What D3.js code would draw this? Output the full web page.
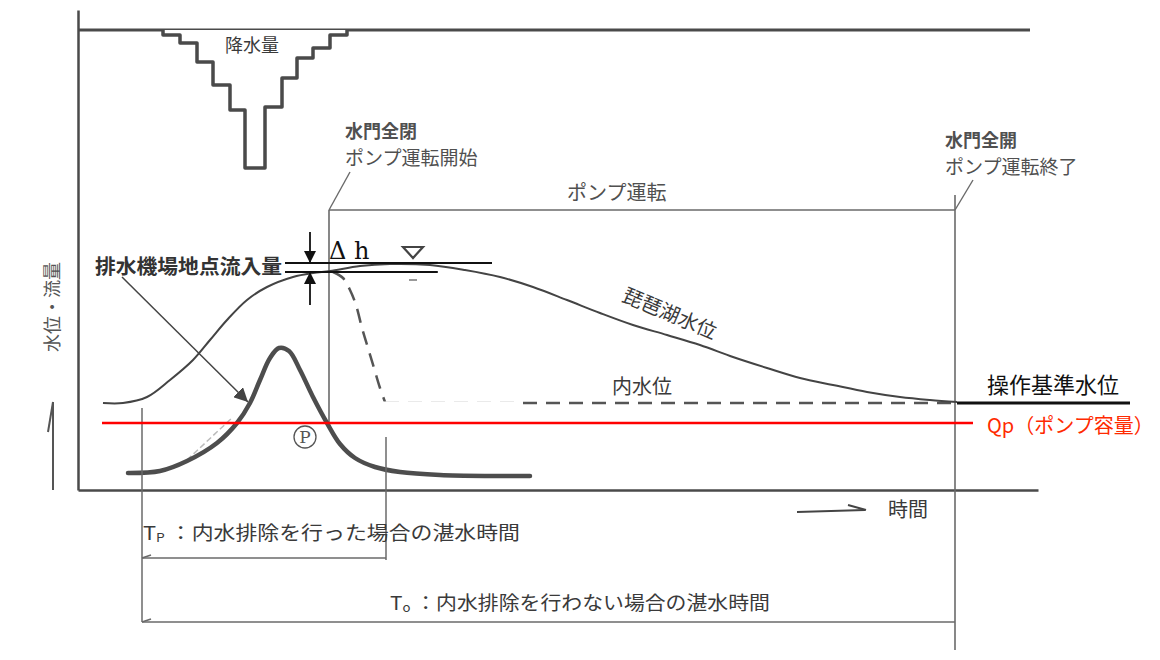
<!DOCTYPE html>
<html>
<head>
<meta charset="utf-8">
<script src="https://cdn.jsdelivr.net/npm/d3@7"></script>
<style>
  body { margin: 0; background: #fff; }
  svg text { font-family: "Noto Sans CJK JP", "Noto Sans", sans-serif; }
</style>
</head>
<body>
<svg id="chart" width="1160" height="660"></svg>
<script>
// time in hours, level in arbitrary units, rain in mm
var rainEdges = [4.25, 5.1, 5.95, 6.75, 7.6, 8.35, 9.35, 10.2, 10.95, 11.75, 12.6, 13.45];
var rainDepth = [0.5, 1.3, 3.2, 5.5, 8.0, 13.8, 7.7, 4.8, 2.8, 1.8, 0.5];

var lakeT = [1.25, 2.25, 3.45, 4.6, 5.75, 6.6, 7.45, 8.45, 9.45, 10.75, 11.75, 12.6, 14.1, 15.6, 17.6, 19.35, 21.1, 22.75, 24.45, 26.1, 27.75, 29.45, 31.1, 32.75, 34.45, 36.1, 37.75, 39.45, 41.1, 42.6, 43.95];
var lakeV = [8.7, 8.7, 9.3, 11.0, 13.0, 15.0, 17.0, 19.0, 20.3, 21.3, 21.7, 21.9, 22.4, 22.6, 22.5, 22.0, 21.3, 20.3, 19.0, 17.7, 16.5, 15.5, 14.5, 13.3, 12.2, 11.2, 10.5, 9.8, 9.3, 9.0, 8.8];

var innerT = [12.75, 13.25, 13.6, 13.9, 14.2, 14.5, 14.8, 15.1, 15.35];
var innerV = [21.8, 21.2, 20.0, 18.5, 16.2, 14.2, 12.2, 10.2, 8.8];
var innerFlatT = [15.35, 43.95];
var innerFlatV = 8.7;

var inflowT = [2.5, 4.1, 5.45, 6.95, 7.95, 8.6, 9.1, 9.6, 10.05, 10.55, 11.1, 11.75, 12.45, 13.1, 13.85, 14.85, 16.1, 18.1, 20.6, 22.6];
var inflowV = [1.7, 1.9, 2.9, 4.7, 6.7, 8.7, 11.0, 13.2, 14.2, 13.9, 12.0, 9.3, 6.7, 4.6, 3.2, 2.3, 1.8, 1.5, 1.4, 1.4];

var qp = 6.7;            // pump capacity level
var baseLevel = 8.7;     // operating reference level
var pumpStart = 12.55, pumpEnd = 43.85, pumpBox = 28;
var floodStart = 3.2, tpEnd = 15.4;
var dhTop = 22.7, dhBottom = 21.8;

var svg = d3.select("#chart");
var x = d3.scaleLinear().domain([0, 48]).range([78, 1038]);
var y = d3.scaleLinear().domain([0, 48]).range([490, 10]);
var r = d3.scaleLinear().domain([0, 14]).range([y(46), y(46) + 140]);

var ink = "#4a4a4a", thin = "#6a6a6a", txt = "#3a3a3a";

var defs = svg.append("defs");
defs.append("marker").attr("id", "head").attr("viewBox", "0 0 10 10")
    .attr("refX", 10).attr("refY", 5).attr("markerWidth", 12).attr("markerHeight", 12)
    .attr("markerUnits", "userSpaceOnUse").attr("orient", "auto")
  .append("path").attr("d", "M0,0L10,5L0,10z").attr("fill", "#111");
defs.append("marker").attr("id", "head2").attr("viewBox", "0 0 10 10")
    .attr("refX", 10).attr("refY", 5).attr("markerWidth", 14).attr("markerHeight", 14)
    .attr("markerUnits", "userSpaceOnUse").attr("orient", "auto")
  .append("path").attr("d", "M0,0L10,5L0,10z").attr("fill", "#444");

var smooth = d3.line().curve(d3.curveCatmullRom)
    .x(function(d) { return x(d[0]); }).y(function(d) { return y(d[1]); });

function seg(t1, v1, t2, v2, color, w, dash) {
  return svg.append("line")
    .attr("x1", x(t1)).attr("y1", y(v1)).attr("x2", x(t2)).attr("y2", y(v2))
    .attr("stroke", color).attr("stroke-width", w)
    .attr("stroke-dasharray", dash || null);
}

// axes
svg.append("g").attr("transform", "translate(" + x(0) + ",0)")
    .call(d3.axisLeft(y).ticks(0).tickSizeOuter(0))
    .select(".domain").attr("stroke", ink).attr("stroke-width", 2.5);
svg.append("g").attr("transform", "translate(0," + y(0) + ")")
    .call(d3.axisBottom(x).ticks(0).tickSizeOuter(0))
    .select(".domain").attr("stroke", ink).attr("stroke-width", 2.5);

// rain baseline and hyetograph
seg(0, 46, 47.6, 46, ink, 3);
var rainPts = [[rainEdges[0], 0]];
rainDepth.forEach(function(d, i) {
  rainPts.push([rainEdges[i], d]);
  rainPts.push([rainEdges[i + 1], d]);
});
rainPts.push([rainEdges[rainEdges.length - 1], 0]);
svg.append("path")
    .attr("d", d3.line().x(function(d) { return x(d[0]); }).y(function(d) { return r(d[1]); })(rainPts))
    .attr("fill", "#fff").attr("stroke", ink).attr("stroke-width", 3.5)
    .attr("stroke-linejoin", "round");
svg.append("text").attr("x", x(8.7)).attr("y", 52).attr("text-anchor", "middle")
    .attr("font-size", 18).attr("fill", txt).text("降水量");

// pump operation box and leaders
seg(pumpStart, pumpBox, pumpEnd, pumpBox, thin, 1.6);
seg(pumpStart, pumpBox, pumpStart, qp - 0.2, thin, 1.6);
seg(pumpEnd, pumpBox + 1.5, pumpEnd, -16, thin, 1.6);
seg(pumpStart, pumpBox, pumpStart + 1.05, pumpBox + 3.8, thin, 1.4);
seg(pumpEnd, pumpBox, pumpEnd + 0.9, pumpBox + 3.0, thin, 1.4);

svg.append("text").attr("x", x(13.35)).attr("y", 138).attr("font-size", 18)
    .attr("font-weight", "bold").attr("fill", "#505050").text("水門全閉");
svg.append("text").attr("x", x(13.35)).attr("y", 165).attr("font-size", 19)
    .attr("fill", "#505050").text("ポンプ運転開始");
svg.append("text").attr("x", x(43.35)).attr("y", 147).attr("font-size", 18)
    .attr("font-weight", "bold").attr("fill", "#505050").text("水門全開");
svg.append("text").attr("x", x(43.35)).attr("y", 174).attr("font-size", 19)
    .attr("fill", "#505050").text("ポンプ運転終了");
svg.append("text").attr("x", x(24.45)).attr("y", 200).attr("font-size", 20)
    .attr("fill", "#505050").text("ポンプ運転");

// faint remnants of the scan
seg(5.45, 3.0, 7.75, 7.3, "#bbb", 1.5, "6,3");
seg(16.2, 6.0, 22.0, 6.0, "#ccc", 1.5, "8,6");

// inner water level (dashed)
svg.append("path").attr("d", smooth(innerT.map(function(t, i) { return [t, innerV[i]]; })))
    .attr("fill", "none").attr("stroke", "#555").attr("stroke-width", 2.5)
    .attr("stroke-dasharray", "14,9");
seg(innerFlatT[0], innerFlatV, innerFlatT[1], innerFlatV, "#555", 2.5, "14,9");

// white patch from the source image
svg.append("rect").attr("x", x(13.85)).attr("y", y(8.85)).attr("width", x(22.2) - x(13.85))
    .attr("height", y(5.9) - y(8.85)).attr("fill", "#fff");

// lake level
svg.append("path").attr("d", smooth(lakeT.map(function(t, i) { return [t, lakeV[i]]; })))
    .attr("fill", "none").attr("stroke", "#444").attr("stroke-width", 2);

// inflow hydrograph
svg.append("path").attr("d", smooth(inflowT.map(function(t, i) { return [t, inflowV[i]]; })))
    .attr("fill", "none").attr("stroke", "#4d4d4d").attr("stroke-width", 4.5)
    .attr("stroke-linecap", "round");

// flood duration brackets
seg(floodStart, 8.2, floodStart, -13.2, thin, 1.5);
seg(tpEnd, 5.3, tpEnd, -7.0, thin, 1.5);
seg(floodStart, -6.8, tpEnd, -6.8, thin, 1.5);
seg(floodStart, -13.2, pumpEnd, -13.2, thin, 1.5);
seg(floodStart, -6.8, floodStart + 0.45, -6.5, thin, 1.5);
seg(floodStart, -13.2, floodStart + 0.45, -12.9, thin, 1.5);

var tp = svg.append("text").attr("x", x(3.25)).attr("y", 540).attr("font-size", 19)
    .attr("fill", txt).attr("textLength", 377).attr("lengthAdjust", "spacingAndGlyphs");
tp.append("tspan").text("T");
tp.append("tspan").attr("font-size", 12).attr("dy", 2).text("P");
tp.append("tspan").attr("dy", -2).text(" ：内水排除を行った場合の湛水時間");
var to = svg.append("text").attr("x", x(15.6)).attr("y", 610).attr("font-size", 19)
    .attr("fill", txt).attr("textLength", 380).attr("lengthAdjust", "spacingAndGlyphs");
to.append("tspan").text("T");
to.append("tspan").attr("font-size", 12).attr("dy", 2).text("o");
to.append("tspan").attr("dy", -2).text(" ：内水排除を行わない場合の湛水時間");

// Qp and operating level
seg(1.2, qp, 44.75, qp, "#ff0000", 2.5);
seg(43.95, baseLevel, 52.6, baseLevel, "#111", 3);
svg.append("text").attr("x", x(45.45)).attr("y", 393).attr("font-size", 22)
    .attr("fill", "#111").text("操作基準水位");
svg.append("text").attr("x", x(45.45)).attr("y", 433).attr("font-size", 20)
    .attr("fill", "#ff2a00").text("Qp（ポンプ容量）");

// delta h
seg(10.35, dhTop, 20.7, dhTop, "#111", 1.8);
seg(10.35, dhBottom, 17.99, dhBottom, "#111", 1.8);
seg(11.6, 25.8, 11.6, dhTop, "#111", 1.8).attr("marker-end", "url(#head)");
seg(11.6, 18.5, 11.6, dhBottom, "#111", 1.8).attr("marker-end", "url(#head)");
svg.append("text").attr("x", x(12.55)).attr("y", 259).attr("font-size", 24)
    .style("font-family", "'DejaVu Serif', 'Liberation Serif', serif").attr("fill", "#111")
    .text("Δ h");

// inflow label and leader
svg.append("text").attr("x", x(0.85)).attr("y", 274).attr("font-size", 20)
    .attr("font-weight", "bold").attr("fill", "#333").attr("textLength", 187)
    .attr("lengthAdjust", "spacingAndGlyphs").text("排水機場地点流入量");
seg(2.2, 21.3, 8.5, 8.8, "#444", 1.5).attr("marker-end", "url(#head2)");

// water surface mark
var wt = 16.75, wv = 24.3;
svg.append("path")
    .attr("d", "M" + x(wt - 0.5) + "," + y(wv) + "L" + x(wt + 0.5) + "," + y(wv) +
               "L" + x(wt) + "," + y(wv - 1.1) + "Z")
    .attr("fill", "none").attr("stroke", "#444").attr("stroke-width", 2.2);
seg(wt - 0.2, 21.0, wt + 0.2, 21.0, "#777", 1.5);

// curve labels
svg.append("text").attr("transform", "translate(" + x(29.45) + "," + (y(17.7) + 7) + ") rotate(23)")
    .attr("text-anchor", "middle").attr("font-size", 20).attr("fill", txt).text("琵琶湖水位");
svg.append("text").attr("x", x(28.2)).attr("y", y(10.3) + 7).attr("text-anchor", "middle")
    .attr("font-size", 20).attr("fill", txt).text("内水位");

// circled P
svg.append("circle").attr("cx", x(11.35)).attr("cy", y(5.3)).attr("r", 11)
    .attr("fill", "none").attr("stroke", "#555").attr("stroke-width", 1.3);
svg.append("text").attr("x", x(11.35)).attr("y", y(5.3) + 6).attr("text-anchor", "middle")
    .attr("font-size", 17).style("font-family", "'DejaVu Serif', serif").attr("fill", "#555").text("P");

// time arrow
seg(35.95, -2.2, 39.35, -2.0, "#444", 2);
seg(38.5, -1.5, 39.4, -2.0, "#444", 2);
svg.append("text").attr("x", x(40.5)).attr("y", 517).attr("font-size", 20)
    .attr("fill", txt).text("時間");

// y label and arrow
svg.append("text").attr("transform", "translate(59,307) rotate(-90)")
    .attr("text-anchor", "middle").attr("font-size", 18).attr("fill", "#555").text("水位・流量");
svg.append("line").attr("x1", 53).attr("x2", 53).attr("y1", y(0)).attr("y2", y(8.8))
    .attr("stroke", "#555").attr("stroke-width", 2);
svg.append("line").attr("x1", 53).attr("x2", 48).attr("y1", y(8.8)).attr("y2", y(5.8))
    .attr("stroke", "#555").attr("stroke-width", 2);
</script>
</body>
</html>
